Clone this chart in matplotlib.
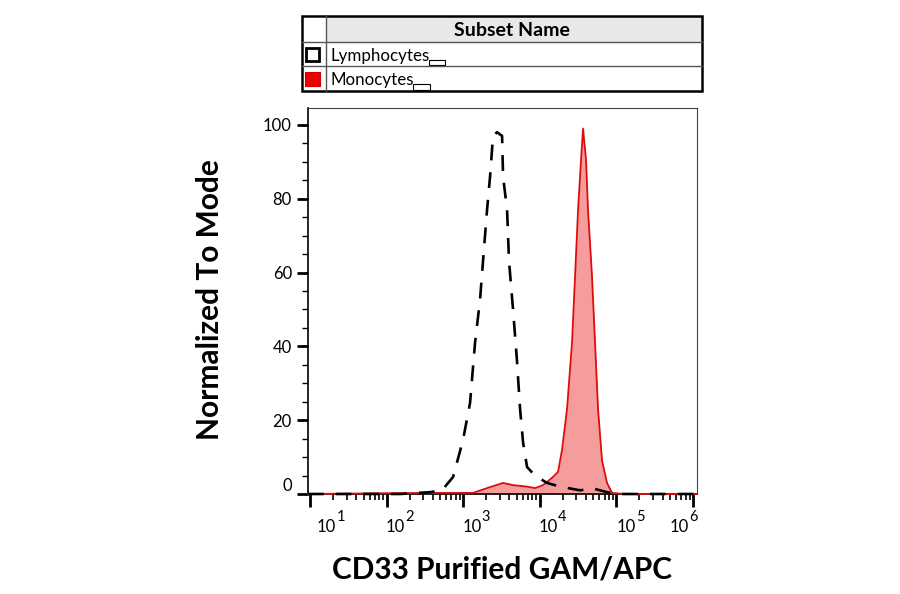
import numpy as np
import matplotlib
matplotlib.use('Agg')
import matplotlib.pyplot as plt
from matplotlib.patches import Rectangle
from matplotlib.ticker import LogLocator, MultipleLocator, NullFormatter

plt.rcParams['font.family'] = ['Lato', 'DejaVu Sans']

# CD33 intensity (x) vs normalized count (y)
lymph_x = [9.4, 10, 150, 369, 528, 736, 993, 1227, 1426, 1656, 1811, 2046, 2239,
           2449, 2761, 3214, 3311, 3733, 3963, 4467, 5035, 5521, 6039, 6808, 8650,
           12417, 18365, 33497, 49545, 75336, 101860, 1127000]
lymph_y = [0, 0, 0, 0.5, 1, 4.6, 14.6, 24.7, 41, 52.6, 63, 77, 86,
           97, 98, 97, 86, 77, 63, 50, 36, 23, 14, 7.3, 5,
           3, 2, 1, 1.5, 0.5, 0, 0]

mono_x = [9.4, 10, 82, 369, 1343, 2046, 3311, 4467, 6808, 8650, 11010, 14860,
          17290, 19500, 22650, 26310, 28840, 31550, 34510, 36650, 40090, 42560,
          47970, 52560, 57540, 64920, 75340, 87640, 129400, 1127000]
mono_y = [0, 0, 0.2, 0.3, 0.3, 1.6, 3, 2.4, 2, 1.6, 2.4, 4.6,
          6, 12, 23, 41, 59, 77, 90.5, 99, 90.5, 77,
          59, 41, 23, 9, 3, 0.3, 0, 0]

subset_names = ['Lymphocytes', 'Monocytes']
x_ticks = [10, 100, 1e3, 1e4, 1e5, 1e6]
x_tick_exps = ['1', '2', '3', '4', '5', '6']
y_ticks = [0, 20, 40, 60, 80, 100]

fig = plt.figure(figsize=(9, 5.94), dpi=100)
ax = fig.add_axes([308 / 900, 1 - 494 / 594, (697 - 308) / 900, (494 - 107.5) / 594])
ax.set_xscale('log')
ax.set_xlim(9.4, 1.127e6)
ax.set_ylim(0, 104.7)

ax.fill_between(mono_x, mono_y, 0, color='#f59d9d', lw=0, zorder=2)
ax.plot(mono_x, mono_y, color='#dd0d0d', lw=1.3, zorder=4, clip_on=False)
ax.plot(lymph_x, lymph_y, color='black', lw=1.9, ls=(0, (6, 4.5)), zorder=5, clip_on=False)

# x ticks: labels drawn by hand so the exponent can be large like FlowJo's
ax.set_xticks(x_ticks)
ax.set_xticklabels([])
ax.xaxis.set_minor_locator(LogLocator(base=10, subs=np.arange(2, 10), numticks=20))
ax.xaxis.set_minor_formatter(NullFormatter())
ax.tick_params(axis='x', which='major', length=9, width=2)
ax.tick_params(axis='x', which='minor', length=4.5, width=1.2)
label_dx = [5, -0.7, -0.7, -0.7, 0, -17]
for t, e, dx in zip(x_ticks, x_tick_exps, label_dx):
    ax.annotate('10', xy=(t, 0), xycoords=('data', 'axes fraction'),
                xytext=(dx, -27.4), textcoords='offset points',
                ha='left', va='baseline', fontsize=12, annotation_clip=False)
    ax.annotate(e, xy=(t, 0), xycoords=('data', 'axes fraction'),
                xytext=(dx + 14, -19.6), textcoords='offset points',
                ha='left', va='baseline', fontsize=10.5, annotation_clip=False)

ax.set_yticks(y_ticks)
ax.set_yticklabels([str(v) for v in y_ticks], fontsize=12)
ax.yaxis.set_minor_locator(MultipleLocator(5))
ax.tick_params(axis='y', which='major', length=8, width=2, pad=3.6)
ax.tick_params(axis='y', which='minor', length=4.5, width=1)
ax.get_yticklabels()[0].set_va('bottom')

for s in ['left', 'bottom']:
    ax.spines[s].set_linewidth(1.2)
    ax.spines[s].set_color('black')
for s in ['top', 'right']:
    ax.spines[s].set_linewidth(0.8)
    ax.spines[s].set_color('#444444')

fig.text(502 / 900, 1 - 570 / 594, 'CD33 Purified GAM/APC', ha='center', va='center',
         fontsize=21.5, fontweight='bold')
fig.text(210 / 900, 1 - 300 / 594, 'Normalized To Mode', ha='center', va='center',
         rotation=90, fontsize=21.5, fontweight='bold')

# legend table drawn in pixel coords
ov = fig.add_axes([0, 0, 1, 1], zorder=10)
ov.set_xlim(0, 900)
ov.set_ylim(594, 0)
ov.axis('off')
ov.add_patch(Rectangle((325.7, 16), 701.7 - 325.7, 42.3 - 16, fc='#e8e8e8', ec='none'))
ov.plot([301.7, 701.7], [42.3, 42.3], color='#555555', lw=1)
ov.plot([301.7, 701.7], [66, 66], color='#555555', lw=1)
ov.plot([325.7, 325.7], [16, 90.7], color='#555555', lw=1)
ov.add_patch(Rectangle((301.7, 16), 400, 74.7, fill=False, ec='black', lw=1.8))
ov.text(511.5, 36, 'Subset Name', ha='center', va='baseline', fontsize=14, fontweight='bold')

ov.add_patch(Rectangle((306, 48), 13, 13, fill=False, ec='black', lw=2))
ov.add_patch(Rectangle((305, 71.5), 15, 14, fc='#ee0000', ec='#cc0000', lw=0.8))
ov.text(330, 60.7, subset_names[0], va='baseline', fontsize=12.2)
ov.text(330, 85, subset_names[1], va='baseline', fontsize=12.2)
ov.add_patch(Rectangle((429, 59.5), 16, 5, fill=False, ec='black', lw=0.8))
ov.add_patch(Rectangle((413, 84), 17, 5.5, fill=False, ec='black', lw=0.8))

fig.savefig('out.png', dpi=100)
